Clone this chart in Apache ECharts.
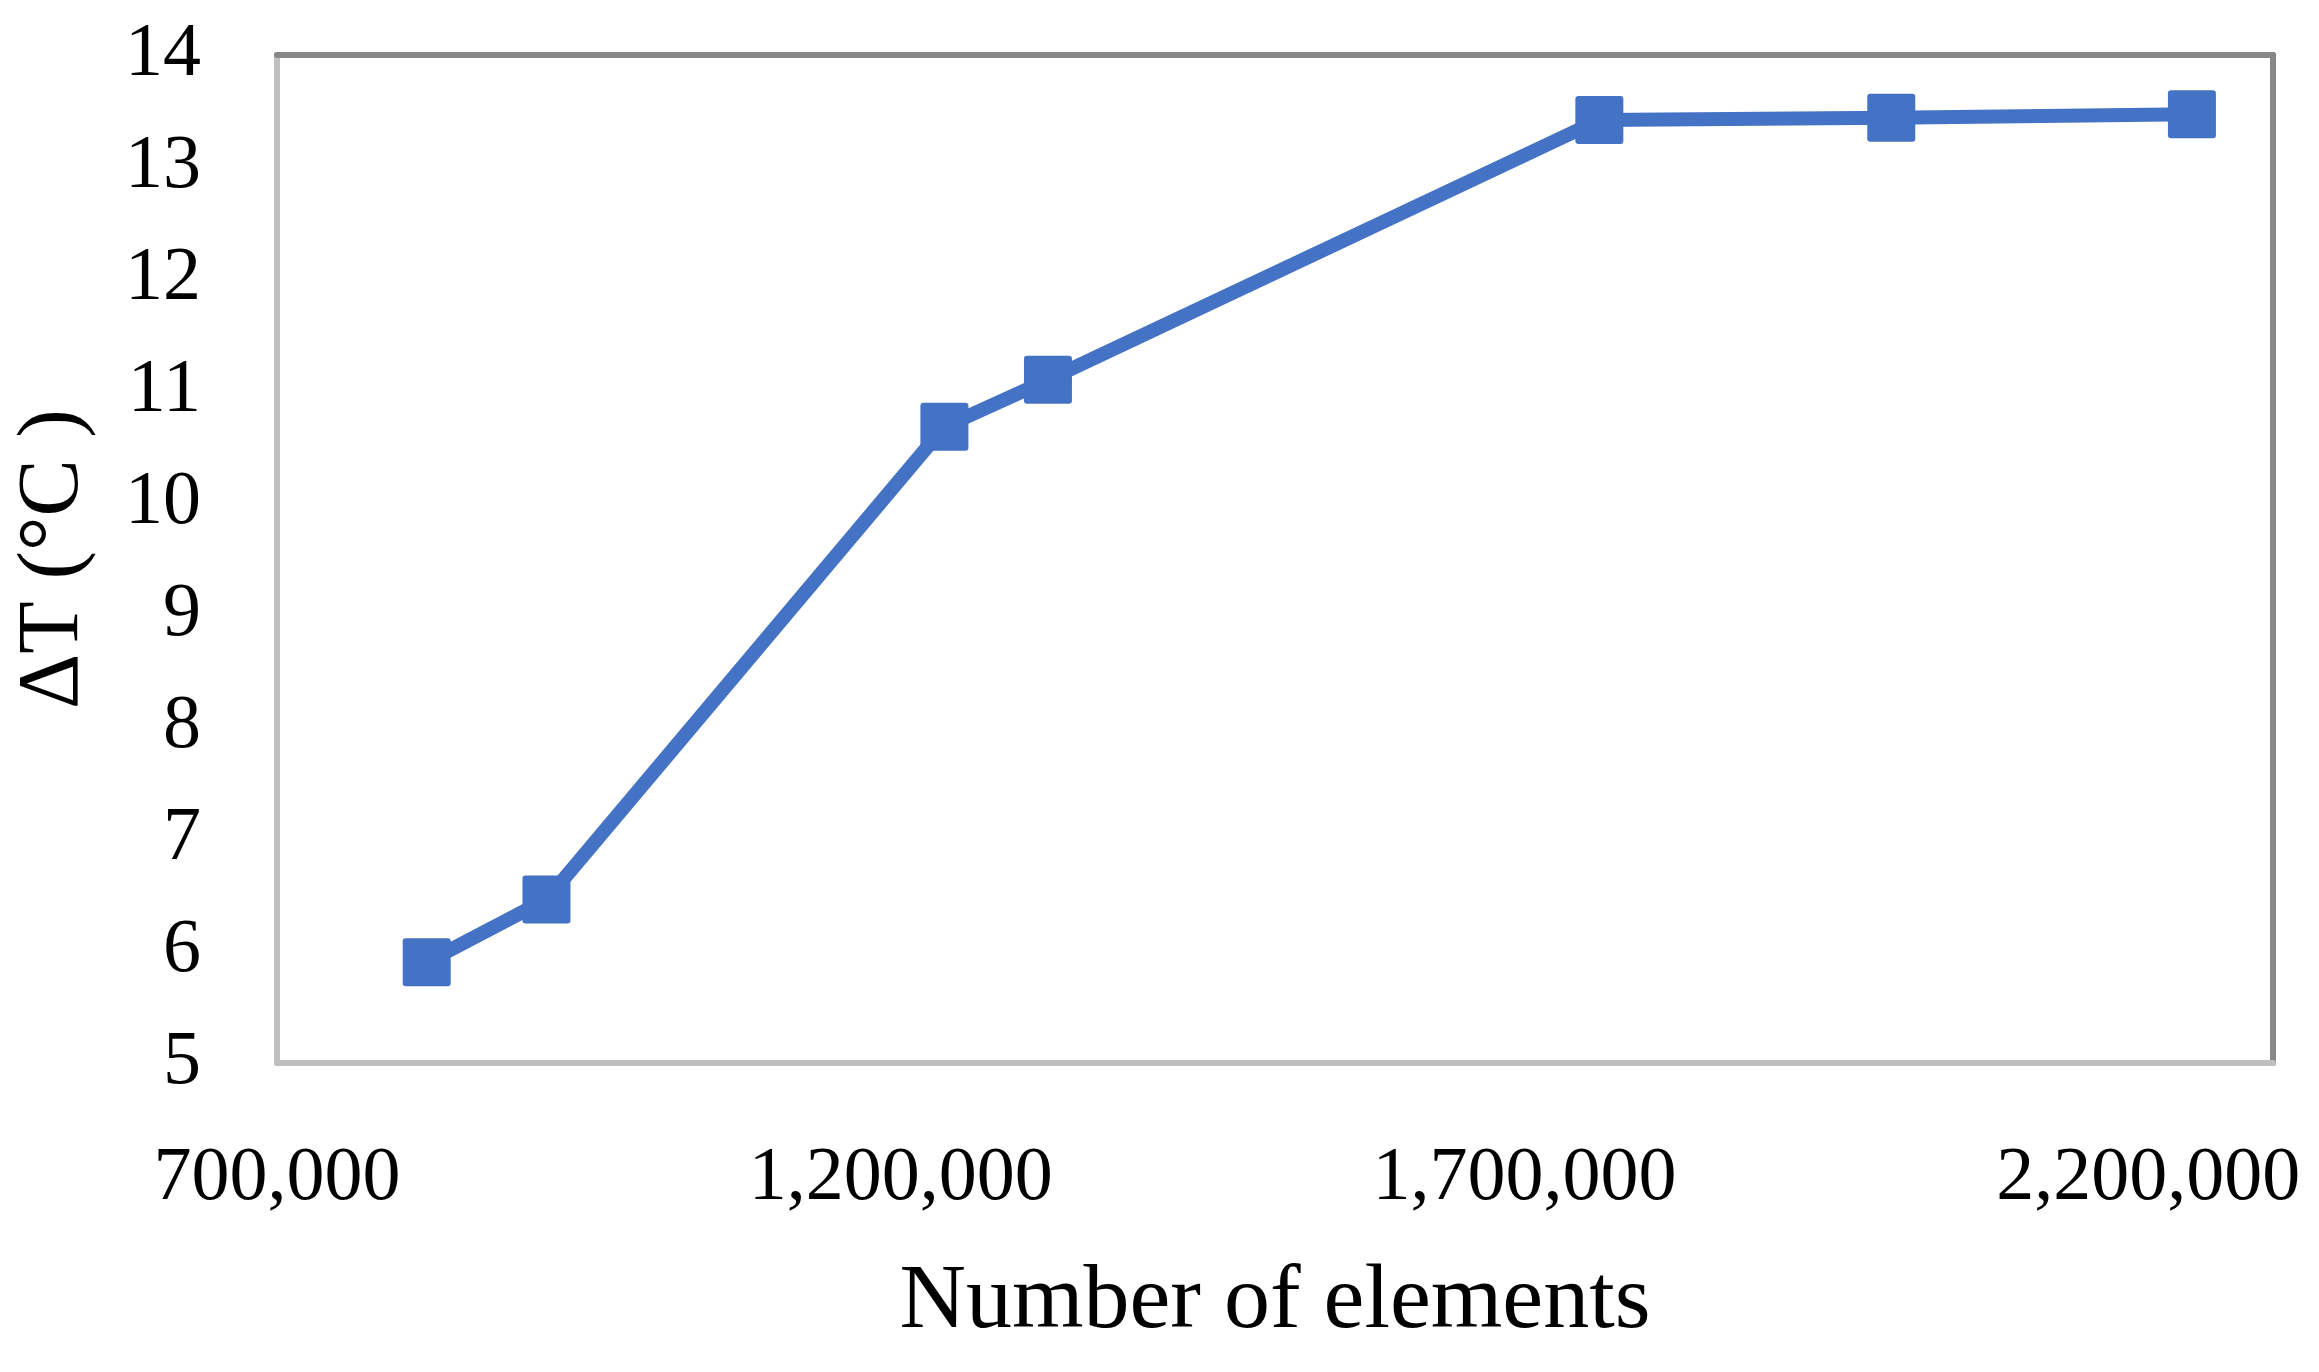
<!DOCTYPE html>
<html>
<head>
<meta charset="utf-8">
<script src="https://cdn.jsdelivr.net/npm/echarts@6/dist/echarts.min.js"></script>
<style>
  html, body { margin: 0; padding: 0; background: #fff; }
  #chart { width: 2319px; height: 1372px; }
</style>
</head>
<body>
<div id="chart"></div>
<script>
// mesh study: number of elements vs temperature difference
var elements = [820000, 916000, 1235000, 1318000, 1760000, 1994000, 2235000];
var deltaT = [5.90, 6.46, 10.68, 11.10, 13.42, 13.44, 13.47];

var xMin = 700000, xMax = 2300000, xStep = 500000;
var yMin = 5, yMax = 14, yStep = 1;

var points = [];
for (var i = 0; i < elements.length; i++) {
    points.push([elements[i], deltaT[i]]);
}

var font = 'Liberation Serif';
var blue = '#4472C4';
// square marker, barely rounded corners
var squareMark = 'path://M3,0 H45 Q48,0 48,3 V45 Q48,48 45,48 H3 Q0,48 0,45 V3 Q0,0 3,0 Z';

var myChart = echarts.init(document.getElementById('chart'));

var option = {
    backgroundColor: '#fff',
    animation: false,
    grid: {
        left: 277,
        right: 46,
        top: 55,
        bottom: 309
    },
    xAxis: [
        {
            type: 'value',
            min: xMin,
            max: xMax,
            interval: xStep,
            name: 'Number of elements',
            nameLocation: 'middle',
            nameGap: 194,
            nameTextStyle: { fontFamily: font, fontSize: 92, color: '#000' },
            axisLine: { show: true, lineStyle: { color: '#bfbfbf', width: 6 } },
            axisTick: { show: false },
            splitLine: { show: false },
            axisLabel: {
                margin: 78,
                showMaxLabel: false,
                fontFamily: font,
                fontSize: 76,
                color: '#000',
                formatter: function (v) { return v.toLocaleString('en-US'); }
            }
        },
        {
            // top edge of the frame
            type: 'value',
            position: 'top',
            min: xMin,
            max: xMax,
            interval: xStep,
            axisLine: { show: true, lineStyle: { color: '#878787', width: 6 } },
            axisTick: { show: false },
            axisLabel: { show: false },
            splitLine: { show: false }
        }
    ],
    yAxis: [
        {
            type: 'value',
            min: yMin,
            max: yMax,
            interval: yStep,
            name: 'ΔT (°C )',
            nameLocation: 'middle',
            nameGap: 180,
            nameTextStyle: { fontFamily: font, fontSize: 86, color: '#000' },
            axisLine: { show: true, lineStyle: { color: '#bfbfbf', width: 6 } },
            axisTick: { show: false },
            splitLine: { show: false },
            axisLabel: {
                margin: 76,
                fontFamily: font,
                fontSize: 76,
                color: '#000'
            }
        },
        {
            // right edge of the frame
            type: 'value',
            position: 'right',
            min: yMin,
            max: yMax,
            interval: yStep,
            axisLine: { show: true, lineStyle: { color: '#878787', width: 6 } },
            axisTick: { show: false },
            axisLabel: { show: false },
            splitLine: { show: false }
        }
    ],
    series: [
        {
            name: 'ΔT',
            type: 'line',
            xAxisIndex: 0,
            yAxisIndex: 0,
            data: points,
            symbol: squareMark,
            symbolSize: 48,
            lineStyle: { color: blue, width: 14 },
            itemStyle: { color: blue }
        }
    ]
};

myChart.setOption(option);
window.addEventListener('resize', myChart.resize);
</script>
</body>
</html>
